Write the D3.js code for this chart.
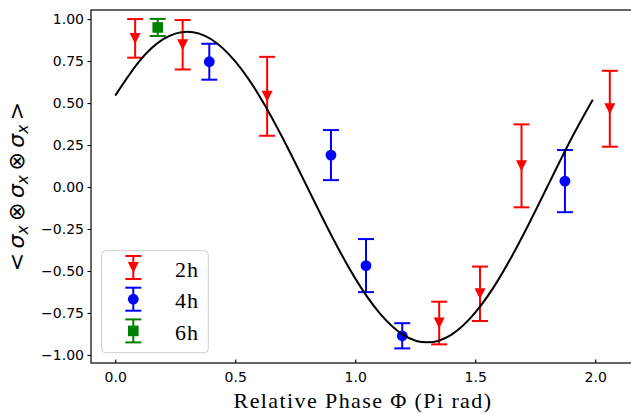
<!DOCTYPE html>
<html>
<head>
<meta charset="utf-8">
<script src="https://cdn.jsdelivr.net/npm/d3@7"></script>
<style>
  html, body { margin: 0; padding: 0; background: #fff; }
  svg { display: block; }
</style>
</head>
<body>
<svg id="chart" width="631" height="414"></svg>
<script>
// Measured correlator <σx⊗σx⊗σx> versus relative phase, three exposure times
const phase2h = [0.083, 0.281, 0.633, 1.350, 1.520, 1.693, 2.061];
const value2h = [0.885, 0.847, 0.540, -0.810, -0.636, 0.126, 0.466];
const error2h = [0.115, 0.147, 0.235, 0.127, 0.162, 0.247, 0.226];

const phase4h = [0.392, 0.899, 1.045, 1.196, 1.874];
const value4h = [0.746, 0.190, -0.468, -0.886, 0.035];
const error4h = [0.107, 0.149, 0.158, 0.075, 0.185];

const phase6h = [0.177];
const value6h = [0.950];
const error6h = [0.051];

// Theory curve sampled along the phase axis
const fitPhase = [0, 0.1, 0.2, 0.3, 0.4, 0.5, 0.6, 0.7, 0.8, 0.9, 1.0,
                  1.1, 1.2, 1.3, 1.4, 1.5, 1.6, 1.7, 1.8, 1.9, 1.99];
const fitValue = [0.544, 0.748, 0.880, 0.925, 0.880, 0.748, 0.544, 0.286, 0.0, -0.286, -0.544,
                  -0.748, -0.880, -0.925, -0.880, -0.748, -0.544, -0.286, 0.0, 0.286, 0.520];

const xTicks = [0, 0.5, 1.0, 1.5, 2.0];
const yTicks = [-1.0, -0.75, -0.5, -0.25, 0.0, 0.25, 0.5, 0.75, 1.0];

const seriesNames = ["2h", "4h", "6h"];
const seriesColors = ["#ff0000", "#0000ff", "#008000"];
const seriesMarkers = ["triangle", "circle", "square"];

const plot = { left: 91, right: 635, top: 10, bottom: 363 };

const svg = d3.select("#chart");

const x = d3.scaleLinear().domain([-0.101, 2.166]).range([plot.left, plot.right]);
const y = d3.scaleLinear().domain([-1.048, 1.054]).range([plot.bottom, plot.top]);

// Axes
const yAxis = d3.axisLeft(y).tickValues(yTicks)
  .tickFormat(d3.format(".2f")).tickSizeInner(3.5).tickSizeOuter(0).tickPadding(3.5);
const xAxis = d3.axisBottom(x).tickValues(xTicks)
  .tickFormat(d3.format(".1f")).tickSizeInner(-3.5).tickSizeOuter(0).tickPadding(9);

const gy = svg.append("g").attr("transform", `translate(${plot.left},0)`).call(yAxis);
const gx = svg.append("g").attr("transform", `translate(0,${plot.bottom})`).call(xAxis);
[gx, gy].forEach(g => {
  g.select(".domain").remove();
  g.selectAll(".tick line").attr("stroke", "#000").attr("stroke-width", 1.1);
  g.selectAll(".tick text")
    .attr("fill", "#000")
    .style("font-family", "'DejaVu Sans', sans-serif")
    .style("font-size", "14px");
});

// Frame
svg.append("rect")
  .attr("x", plot.left).attr("y", plot.top)
  .attr("width", plot.right - plot.left).attr("height", plot.bottom - plot.top)
  .attr("fill", "none").attr("stroke", "#000").attr("stroke-width", 1.2);

const dataLayer = svg.append("g");

function drawMarker(g, kind, cx, cy, color) {
  const s = 5.5;
  if (kind === "triangle") {
    g.append("path")
      .attr("d", `M${cx},${cy + s}L${cx - s},${cy - s}L${cx + s},${cy - s}Z`)
      .attr("fill", color);
  } else if (kind === "circle") {
    g.append("circle").attr("cx", cx).attr("cy", cy).attr("r", 5.4).attr("fill", color);
  } else {
    g.append("rect").attr("x", cx - 5.3).attr("y", cy - 5.3)
      .attr("width", 10.6).attr("height", 10.6).attr("fill", color);
  }
}

function drawErrorBar(g, cx, yTop, yBot, color) {
  const cap = 8;
  g.append("line").attr("x1", cx).attr("x2", cx).attr("y1", yTop).attr("y2", yBot)
    .attr("stroke", color).attr("stroke-width", 2);
  [yTop, yBot].forEach(yy => {
    g.append("line").attr("x1", cx - cap).attr("x2", cx + cap).attr("y1", yy).attr("y2", yy)
      .attr("stroke", color).attr("stroke-width", 2);
  });
}

const allSeries = [
  { phase: phase2h, value: value2h, error: error2h },
  { phase: phase4h, value: value4h, error: error4h },
  { phase: phase6h, value: value6h, error: error6h }
];

allSeries.forEach((s, i) => {
  const g = dataLayer.append("g");
  s.phase.forEach((p, j) => {
    const v = s.value[j], e = s.error[j];
    drawErrorBar(g, x(p), y(v + e), y(v - e), seriesColors[i]);
    drawMarker(g, seriesMarkers[i], x(p), y(v), seriesColors[i]);
  });
});

// Theory curve on top of the data
const line = d3.line().x((d, i) => x(fitPhase[i])).y(d => y(d)).curve(d3.curveNatural);
svg.append("path")
  .attr("d", line(fitValue))
  .attr("fill", "none").attr("stroke", "#000").attr("stroke-width", 2);

// Legend
const legend = svg.append("g");
legend.append("rect")
  .attr("x", 101.7).attr("y", 250.7).attr("width", 106.6).attr("height", 102)
  .attr("rx", 4).attr("fill", "#fff").attr("fill-opacity", 0.8)
  .attr("stroke", "#cccccc").attr("stroke-width", 1);
seriesNames.forEach((name, i) => {
  const cy = 267.5 + i * 31.7;
  drawErrorBar(legend, 133.3, cy - 11.5, cy + 11.5, seriesColors[i]);
  drawMarker(legend, seriesMarkers[i], 133.3, cy, seriesColors[i]);
  legend.append("text")
    .attr("x", 175).attr("y", cy + 9)
    .style("font-family", "'Liberation Serif', serif")
    .style("font-size", "22px")
    .style("letter-spacing", "1px")
    .text(name);
});

// Axis titles
svg.append("text")
  .attr("x", (plot.left + plot.right) / 2).attr("y", 408)
  .attr("text-anchor", "middle")
  .style("font-family", "'Liberation Serif', serif")
  .style("font-size", "22px")
  .style("letter-spacing", "1.4px")
  .text("Relative Phase Φ (Pi rad)");

const yt = svg.append("text")
  .attr("transform", `translate(24,${(plot.top + plot.bottom) / 2}) rotate(-90)`)
  .attr("text-anchor", "middle")
  .style("font-family", "'DejaVu Sans', sans-serif")
  .style("font-size", "22px");
const parts = [
  ["<\u2009", null], ["σ", "it"], ["x", "sub"], ["\u2009⊗\u2009", null],
  ["σ", "it"], ["x", "sub"], ["\u2009⊗\u2009", null],
  ["σ", "it"], ["x", "sub"], ["\u2009>", null]
];
let shifted = false;
parts.forEach(([t, kind]) => {
  const ts = yt.append("tspan").text(t);
  if (kind === "it") ts.style("font-style", "italic");
  if (kind === "sub") {
    ts.style("font-style", "italic").style("font-size", "15.5px").attr("dy", 4);
    shifted = true;
  } else if (shifted) {
    ts.attr("dy", -4);
    shifted = false;
  }
});
</script>
</body>
</html>
